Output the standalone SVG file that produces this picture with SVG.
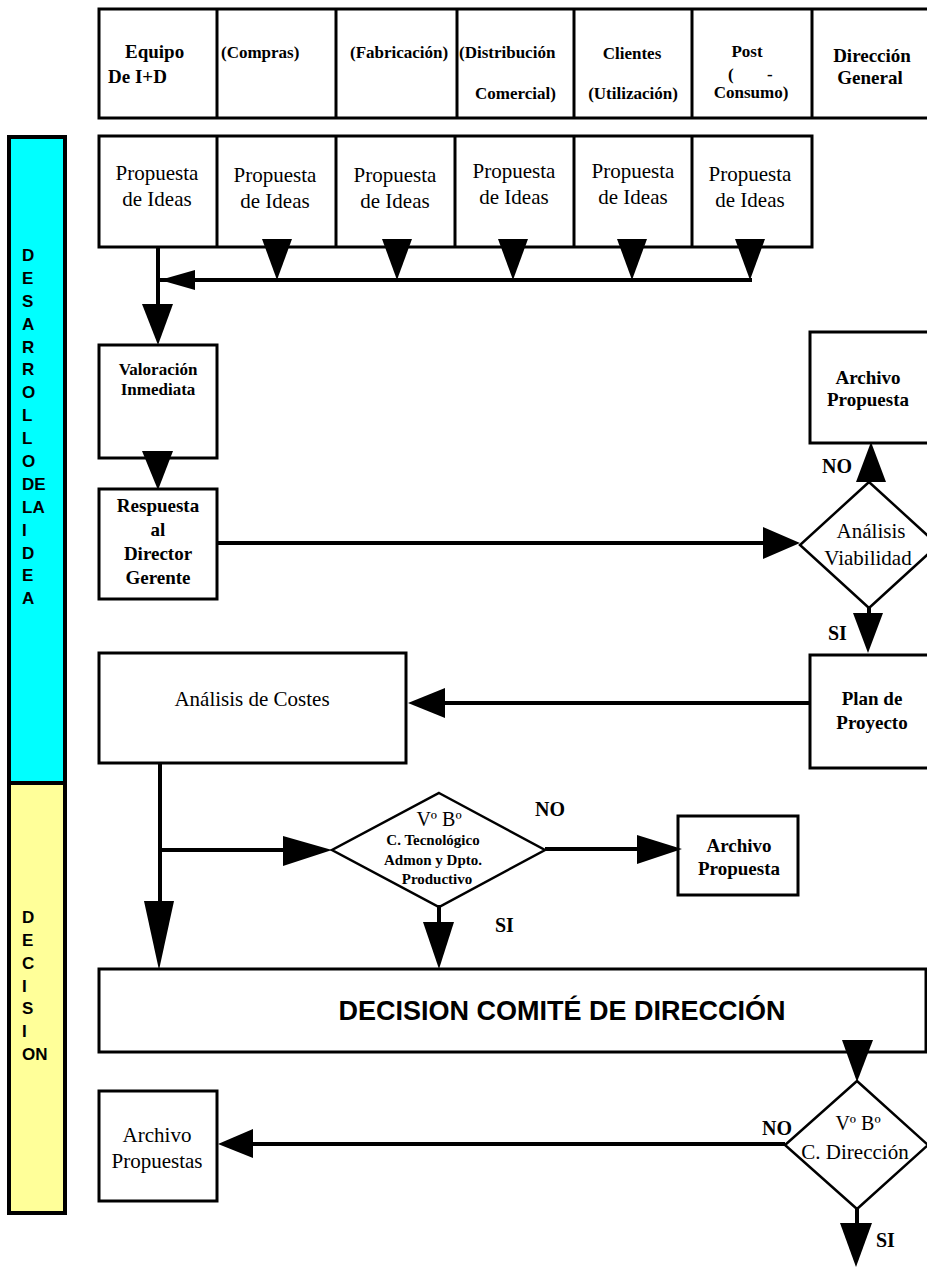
<svg xmlns="http://www.w3.org/2000/svg" width="927" height="1268" viewBox="0 0 927 1268">
  <style>
    .box { fill: #ffffff; stroke: #000000; stroke-width: 3; }
    .dia { fill: #ffffff; stroke: #000000; stroke-width: 2.5; }
    .line { fill: none; stroke: #000000; stroke-width: 4; }
    .head { fill: #000000; stroke: none; }
    .hb { font-family: "Liberation Serif", "Times New Roman", serif; font-weight: bold; font-size: 17px; fill: #000; }
    .hbig { font-family: "Liberation Serif", "Times New Roman", serif; font-weight: bold; font-size: 19px; fill: #000; }
    .tr { font-family: "Liberation Serif", "Times New Roman", serif; font-size: 21px; fill: #000; }
    .tb { font-family: "Liberation Serif", "Times New Roman", serif; font-weight: bold; font-size: 19px; fill: #000; }
    .tbs { font-family: "Liberation Serif", "Times New Roman", serif; font-weight: bold; font-size: 15px; fill: #000; }
    .lbl { font-family: "Liberation Serif", "Times New Roman", serif; font-weight: bold; font-size: 20px; fill: #000; }
    .side { font-family: "Liberation Sans", Arial, sans-serif; font-weight: bold; font-size: 17px; fill: #000; }
    .big { font-family: "Liberation Sans", Arial, sans-serif; font-weight: bold; font-size: 27px; fill: #000; }
    .c { text-anchor: middle; }
  </style>

  <!-- phase bars -->
  <g id="phase-desarrollo">
    <rect x="9" y="137" width="56" height="646" fill="#00ffff" stroke="#000" stroke-width="4"/>
    <g class="side">
      <text x="22" y="261">D</text>
      <text x="22" y="284">E</text>
      <text x="22" y="307">S</text>
      <text x="22" y="330">A</text>
      <text x="22" y="353">R</text>
      <text x="22" y="375">R</text>
      <text x="22" y="398">O</text>
      <text x="22" y="421">L</text>
      <text x="22" y="444">L</text>
      <text x="22" y="467">O</text>
      <text x="22" y="490">DE</text>
      <text x="22" y="513">LA</text>
      <text x="22" y="536">I</text>
      <text x="22" y="559">D</text>
      <text x="22" y="581">E</text>
      <text x="22" y="604">A</text>
    </g>
  </g>
  <g id="phase-decision">
    <rect x="9" y="783" width="56" height="430" fill="#ffff99" stroke="#000" stroke-width="4"/>
    <g class="side">
      <text x="22" y="923">D</text>
      <text x="22" y="946">E</text>
      <text x="22" y="969">C</text>
      <text x="22" y="992">I</text>
      <text x="22" y="1014">S</text>
      <text x="22" y="1037">I</text>
      <text x="22" y="1060">ON</text>
    </g>
  </g>

  <!-- header row of departments -->
  <g id="header">
    <rect class="box" x="99" y="9" width="836" height="109"/>
    <line x1="217" y1="9" x2="217" y2="118" stroke="#000" stroke-width="3"/>
    <line x1="336" y1="9" x2="336" y2="118" stroke="#000" stroke-width="3"/>
    <line x1="457" y1="9" x2="457" y2="118" stroke="#000" stroke-width="3"/>
    <line x1="574" y1="9" x2="574" y2="118" stroke="#000" stroke-width="3"/>
    <line x1="692" y1="9" x2="692" y2="118" stroke="#000" stroke-width="3"/>
    <line x1="812" y1="9" x2="812" y2="118" stroke="#000" stroke-width="3"/>
    <text class="hbig" x="125" y="58">Equipo</text>
    <text class="hbig" x="108" y="83">De I+D</text>
    <text class="hb" x="221" y="58">(Compras)</text>
    <text class="hb" x="350" y="58">(Fabricación)</text>
    <text class="hb" x="459" y="58">(Distribución</text>
    <text class="hb" x="475" y="99">Comercial)</text>
    <text class="hb c" x="632" y="59">Clientes</text>
    <text class="hb c" x="633" y="99">(Utilización)</text>
    <text class="hb c" x="747" y="57">Post</text>
    <text class="hb" x="728" y="80">(</text>
    <text class="hb" x="767" y="80">-</text>
    <text class="hb c" x="751" y="98">Consumo)</text>
    <text class="hbig c" x="872" y="62">Dirección</text>
    <text class="hbig c" x="870" y="84">General</text>
  </g>

  <!-- proposal boxes -->
  <g id="propuestas">
    <rect class="box" x="99" y="136" width="713" height="111"/>
    <line x1="217" y1="136" x2="217" y2="247" stroke="#000" stroke-width="3"/>
    <line x1="336" y1="136" x2="336" y2="247" stroke="#000" stroke-width="3"/>
    <line x1="455" y1="136" x2="455" y2="247" stroke="#000" stroke-width="3"/>
    <line x1="574" y1="136" x2="574" y2="247" stroke="#000" stroke-width="3"/>
    <line x1="692" y1="136" x2="692" y2="247" stroke="#000" stroke-width="3"/>
    <g class="tr c">
      <text x="157" y="180">Propuesta</text><text x="157" y="206">de Ideas</text>
      <text x="275" y="182">Propuesta</text><text x="275" y="208">de Ideas</text>
      <text x="395" y="182">Propuesta</text><text x="395" y="208">de Ideas</text>
      <text x="514" y="178">Propuesta</text><text x="514" y="204">de Ideas</text>
      <text x="633" y="178">Propuesta</text><text x="633" y="204">de Ideas</text>
      <text x="750" y="181">Propuesta</text><text x="750" y="207">de Ideas</text>
    </g>
  </g>

  <g id="valoracion">
    <rect class="box" x="99" y="345" width="118" height="113"/>
    <text class="tb c" x="158" y="375" style="font-size:17px">Valoración</text>
    <text class="tb c" x="158" y="395" style="font-size:17px">Inmediata</text>
  </g>

  <g id="respuesta">
    <rect class="box" x="99" y="489" width="118" height="110"/>
    <text class="tb c" x="158" y="512">Respuesta</text>
    <text class="tb c" x="158" y="536">al</text>
    <text class="tb c" x="158" y="560">Director</text>
    <text class="tb c" x="158" y="584">Gerente</text>
  </g>

  <g id="archivo-propuesta-1">
    <rect class="box" x="810" y="332" width="125" height="111"/>
    <text class="tb c" x="868" y="384">Archivo</text>
    <text class="tb c" x="868" y="406">Propuesta</text>
  </g>

  <g id="analisis-viabilidad">
    <polygon class="dia" points="869,482 938,545 869,608 800,545"/>
    <text class="tr c" x="871" y="538">Análisis</text>
    <text class="tr c" x="868" y="565">Viabilidad</text>
  </g>

  <g id="plan-proyecto">
    <rect class="box" x="810" y="655" width="125" height="113"/>
    <text class="tb c" x="872" y="705">Plan de</text>
    <text class="tb c" x="872" y="729">Proyecto</text>
  </g>

  <g id="analisis-costes">
    <rect class="box" x="99" y="653" width="307" height="110"/>
    <text class="tr c" x="252" y="706">Análisis de Costes</text>
  </g>

  <g id="vb-tecnologico">
    <polygon class="dia" points="439,793 545,850 439,907 332,850"/>
    <text class="tr c" x="439" y="826" style="font-size:20px">Vº Bº</text>
    <text class="tbs c" x="433" y="845">C. Tecnológico</text>
    <text class="tbs c" x="433" y="865">Admon y Dpto.</text>
    <text class="tbs c" x="437" y="884">Productivo</text>
  </g>

  <g id="archivo-propuesta-2">
    <rect class="box" x="678" y="816" width="120" height="79"/>
    <text class="tb c" x="739" y="852">Archivo</text>
    <text class="tb c" x="739" y="875">Propuesta</text>
  </g>

  <g id="decision-comite">
    <rect class="box" x="99" y="969" width="827" height="83"/>
    <text class="big c" x="562" y="1020">DECISION COMITÉ DE DIRECCIÓN</text>
  </g>

  <g id="vb-direccion">
    <polygon class="dia" points="857,1081 928,1145 857,1209 785,1145"/>
    <text class="tr c" x="858" y="1130" style="font-size:20px">Vº Bº</text>
    <text class="tr c" x="855" y="1159">C. Dirección</text>
  </g>

  <g id="archivo-propuestas">
    <rect class="box" x="99" y="1091" width="118" height="110"/>
    <text class="tr c" x="157" y="1142">Archivo</text>
    <text class="tr c" x="157" y="1168">Propuestas</text>
  </g>

  <!-- connectors -->
  <g id="connectors">
    <!-- proposals collected into one line -->
    <polyline class="line" points="752,280 160,280"/>
    <polygon class="head" points="262,239 292,239 277,280"/>
    <polygon class="head" points="382,239 412,239 397,280"/>
    <polygon class="head" points="498,239 528,239 513,280"/>
    <polygon class="head" points="617,239 647,239 632,280"/>
    <polygon class="head" points="735,239 765,239 750,280"/>
    <polygon class="head" points="160,280 195,270 195,290"/>
    <line class="line" x1="158" y1="247" x2="158" y2="320"/>
    <polygon class="head" points="142,304 173,304 158,345"/>

    <!-- Valoración to Respuesta -->
    <polygon class="head" points="142,451 173,451 158,490"/>

    <!-- Respuesta to Análisis Viabilidad -->
    <line class="line" x1="217" y1="543" x2="780" y2="543"/>
    <polygon class="head" points="763,527 800,543 763,559"/>
    <text class="lbl" x="822" y="473">NO</text>
    <polygon class="head" points="856,482 886,482 871,442"/>
    <line class="line" x1="869" y1="606" x2="869" y2="616"/>
    <polygon class="head" points="853,613 883,613 868,653"/>
    <text class="lbl" x="828" y="640">SI</text>

    <!-- Plan de Proyecto to Análisis de Costes -->
    <line class="line" x1="810" y1="703" x2="430" y2="703"/>
    <polygon class="head" points="408,703 445,688 445,718"/>

    <!-- Análisis de Costes to V°B° and Comité -->
    <line class="line" x1="160" y1="763" x2="160" y2="930"/>
    <line class="line" x1="160" y1="850" x2="300" y2="850"/>
    <polygon class="head" points="283,836 332,850 283,866"/>
    <polygon class="head" points="144,901 174,901 159,970"/>

    <line class="line" x1="545" y1="849" x2="650" y2="849"/>
    <polygon class="head" points="637,835 682,849 637,864"/>
    <text class="lbl" x="535" y="816">NO</text>

    <line class="line" x1="439" y1="905" x2="439" y2="925"/>
    <polygon class="head" points="423,922 454,922 439,969"/>
    <text class="lbl" x="495" y="932">SI</text>

    <!-- Comité to V°B° Dirección -->
    <polygon class="head" points="842,1040 873,1040 857,1082"/>
    <line class="line" x1="785" y1="1144" x2="240" y2="1144"/>
    <polygon class="head" points="218,1144 253,1129 253,1158"/>
    <text class="lbl" x="762" y="1135">NO</text>
    <line class="line" x1="857" y1="1207" x2="857" y2="1226"/>
    <polygon class="head" points="840,1223 872,1223 856,1267"/>
    <text class="lbl" x="876" y="1247">SI</text>
  </g>
</svg>
